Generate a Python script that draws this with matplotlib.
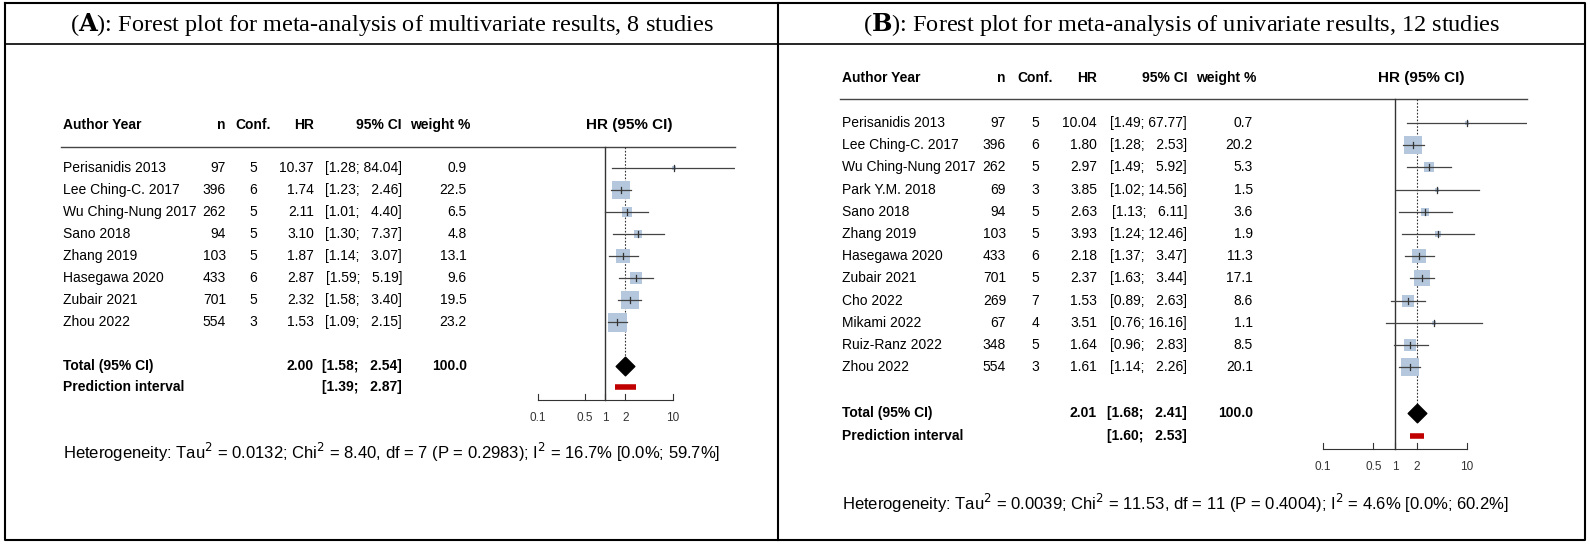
import matplotlib.pyplot as plt
import numpy as np

plt.rcParams['font.family'] = ['Liberation Sans', 'DejaVu Sans']

# panel A: multivariate
a_authors = ['Perisanidis 2013', 'Lee Ching-C. 2017', 'Wu Ching-Nung 2017', 'Sano 2018',
             'Zhang 2019', 'Hasegawa 2020', 'Zubair 2021', 'Zhou 2022']
a_n = [97, 396, 262, 94, 103, 433, 701, 554]
a_conf = [5, 6, 5, 5, 5, 6, 5, 3]
a_hr = [10.37, 1.74, 2.11, 3.10, 1.87, 2.87, 2.32, 1.53]
a_lo = [1.28, 1.23, 1.01, 1.30, 1.14, 1.59, 1.58, 1.09]
a_hi = [84.04, 2.46, 4.40, 7.37, 3.07, 5.19, 3.40, 2.15]
a_w = [0.9, 22.5, 6.5, 4.8, 13.1, 9.6, 19.5, 23.2]
a_total = (2.00, 1.58, 2.54)
a_pred = (1.39, 2.87)
a_het = 'Heterogeneity: Tau$^2$ = 0.0132; Chi$^2$ = 8.40, df = 7 (P = 0.2983); I$^2$ = 16.7% [0.0%; 59.7%]'

# panel B: univariate
b_authors = ['Perisanidis 2013', 'Lee Ching-C. 2017', 'Wu Ching-Nung 2017', 'Park Y.M. 2018',
             'Sano 2018', 'Zhang 2019', 'Hasegawa 2020', 'Zubair 2021', 'Cho 2022',
             'Mikami 2022', 'Ruiz-Ranz 2022', 'Zhou 2022']
b_n = [97, 396, 262, 69, 94, 103, 433, 701, 269, 67, 348, 554]
b_conf = [5, 6, 5, 3, 5, 5, 6, 5, 7, 4, 5, 3]
b_hr = [10.04, 1.80, 2.97, 3.85, 2.63, 3.93, 2.18, 2.37, 1.53, 3.51, 1.64, 1.61]
b_lo = [1.49, 1.28, 1.49, 1.02, 1.13, 1.24, 1.37, 1.63, 0.89, 0.76, 0.96, 1.14]
b_hi = [67.77, 2.53, 5.92, 14.56, 6.11, 12.46, 3.47, 3.44, 2.63, 16.16, 2.83, 2.26]
b_w = [0.7, 20.2, 5.3, 1.5, 3.6, 1.9, 11.3, 17.1, 8.6, 1.1, 8.5, 20.1]
b_total = (2.01, 1.68, 2.41)
b_pred = (1.60, 2.53)
b_het = 'Heterogeneity: Tau$^2$ = 0.0039; Chi$^2$ = 11.53, df = 11 (P = 0.4004); I$^2$ = 4.6% [0.0%; 60.2%]'

tick_vals = [0.1, 0.5, 1, 2, 10]
tick_labels = ['0.1', '0.5', '1', '2', '10']

W, H = 1590, 544
fig = plt.figure(figsize=(W / 100, H / 100), dpi=100)
base = fig.add_axes([0, 0, 1, 1])
base.set_xlim(0, W)
base.set_ylim(H, 0)
base.axis('off')

# frame
base.plot([5, 1585, 1585, 5, 5], [3, 3, 540, 540, 3], color='black', lw=1.5)
base.plot([5, 1585], [44, 44], color='black', lw=1.2)
base.plot([778, 778], [3, 540], color='black', lw=1.5)

for x, lab, rest in [(392, 'A', ': Forest plot for meta-analysis of multivariate results, 8 studies'),
                     (1182, 'B', ': Forest plot for meta-analysis of univariate results, 12 studies')]:
    base.text(x, 24, '(' + r'$\mathbf{' + lab + '}$' + ')' + rest, ha='center', va='center',
              fontsize=17.5, family='Liberation Serif', math_fontfamily='dejavuserif')


def ci_text(lo, hi):
    return f'[{lo:.2f}; ' + ('  ' if hi < 10 else '') + f'{hi:.2f}]'


def panel(cfg, authors, n, conf, hr, lo, hi, w, total, pred, het):
    x0, hdr_y, line_y, y0, dy, tot_y, pred_y, axis_y, het_y, x1, xr, px1, pxdec, cols = cfg
    c_n, c_conf, c_hr, c_ci, c_w = cols
    fs = 10
    base.text(x0, hdr_y, 'Author Year', fontsize=fs, weight='bold', va='center')
    base.text(c_n, hdr_y, 'n', fontsize=fs, weight='bold', va='center', ha='right')
    base.text(c_conf, hdr_y, 'Conf.', fontsize=fs, weight='bold', va='center', ha='center')
    base.text(c_hr, hdr_y, 'HR', fontsize=fs, weight='bold', va='center', ha='right')
    base.text(c_ci, hdr_y, '95% CI', fontsize=fs, weight='bold', va='center', ha='right')
    base.text(c_w + 3, hdr_y, 'weight %', fontsize=fs, weight='bold', va='center', ha='right')
    base.text(px1 + pxdec * np.log10(2.3), hdr_y, 'HR (95% CI)', fontsize=11, weight='bold',
              va='center', ha='center')
    base.plot([x0 - 2, xr], [line_y, line_y], color='#444444', lw=1)
    for i in range(len(authors)):
        y = y0 + i * dy
        base.text(x0, y, authors[i], fontsize=fs, va='center')
        base.text(c_n, y, str(n[i]), fontsize=fs, va='center', ha='right')
        base.text(c_conf, y, str(conf[i]), fontsize=fs, va='center', ha='center')
        base.text(c_hr, y, f'{hr[i]:.2f}', fontsize=fs, va='center', ha='right')
        base.text(c_ci, y, ci_text(lo[i], hi[i]), fontsize=fs, va='center', ha='right')
        base.text(c_w, y, f'{w[i]:.1f}', fontsize=fs, va='center', ha='right')
    base.text(x0, tot_y, 'Total (95% CI)', fontsize=fs, weight='bold', va='center')
    base.text(c_hr, tot_y, f'{total[0]:.2f}', fontsize=fs, weight='bold', va='center', ha='right')
    base.text(c_ci, tot_y, ci_text(total[1], total[2]), fontsize=fs, weight='bold',
              va='center', ha='right')
    base.text(c_w, tot_y, '100.0', fontsize=fs, weight='bold', va='center', ha='right')
    base.text(x0, pred_y, 'Prediction interval', fontsize=fs, weight='bold', va='center')
    base.text(c_ci, pred_y, ci_text(pred[0], pred[1]), fontsize=fs, weight='bold',
              va='center', ha='right')
    base.text(x0, het_y, het, fontsize=12, va='center')

    # forest axes in log scale
    ax = fig.add_axes([x1 / W, 0, (xr - x1) / W, 1])
    ax.set_xscale('log')
    ax.set_xlim(10 ** ((x1 - px1) / pxdec), 10 ** ((xr - px1) / pxdec))
    ax.set_ylim(H, 0)
    ax.axis('off')
    ax.plot([1, 1], [line_y, axis_y], color='#333333', lw=1)
    ax.plot([total[0], total[0]], [line_y, tot_y], color='#333333', lw=0.8, ls=(0, (1.5, 1.5)))
    for i in range(len(authors)):
        y = y0 + i * dy
        ax.plot([lo[i], hi[i]], [y, y], color='#444444', lw=0.9, zorder=3)
        side = 19 * np.sqrt(w[i] / 23.2) * 72 / 100
        side = max(side, 2.5)
        ax.scatter([hr[i]], [y], marker='s', s=side ** 2, color='#b4c7dd', zorder=2, lw=0)
        ax.plot([hr[i], hr[i]], [y - 3, y + 3], color='#333333', lw=0.9, zorder=4)
    ax.scatter([total[0]], [tot_y], marker='D', s=90, color='black', zorder=5)
    ax.plot([pred[0], pred[1]], [pred_y, pred_y], color='#c00000', lw=4, solid_capstyle='butt')
    ax.plot([0.1, 10], [axis_y, axis_y], color='#333333', lw=0.8)
    for v, lab in zip(tick_vals, tick_labels):
        ax.plot([v, v], [axis_y, axis_y - 6], color='#333333', lw=0.8)
        ax.text(v, axis_y + 18, lab, fontsize=8.5, ha='center', va='center', color='#333333')


panel((63, 125, 147, 168, 22, 366, 387, 400, 452, 500, 735, 605, 67.5,
       (226, 253, 314, 402, 467)),
      a_authors, a_n, a_conf, a_hr, a_lo, a_hi, a_w, a_total, a_pred, a_het)
panel((842, 78, 99, 123, 22.2, 413, 436, 449, 503, 1200, 1527, 1395, 72,
       (1006, 1035, 1097, 1187, 1253)),
      b_authors, b_n, b_conf, b_hr, b_lo, b_hi, b_w, b_total, b_pred, b_het)

fig.savefig('out.png', dpi=100)
